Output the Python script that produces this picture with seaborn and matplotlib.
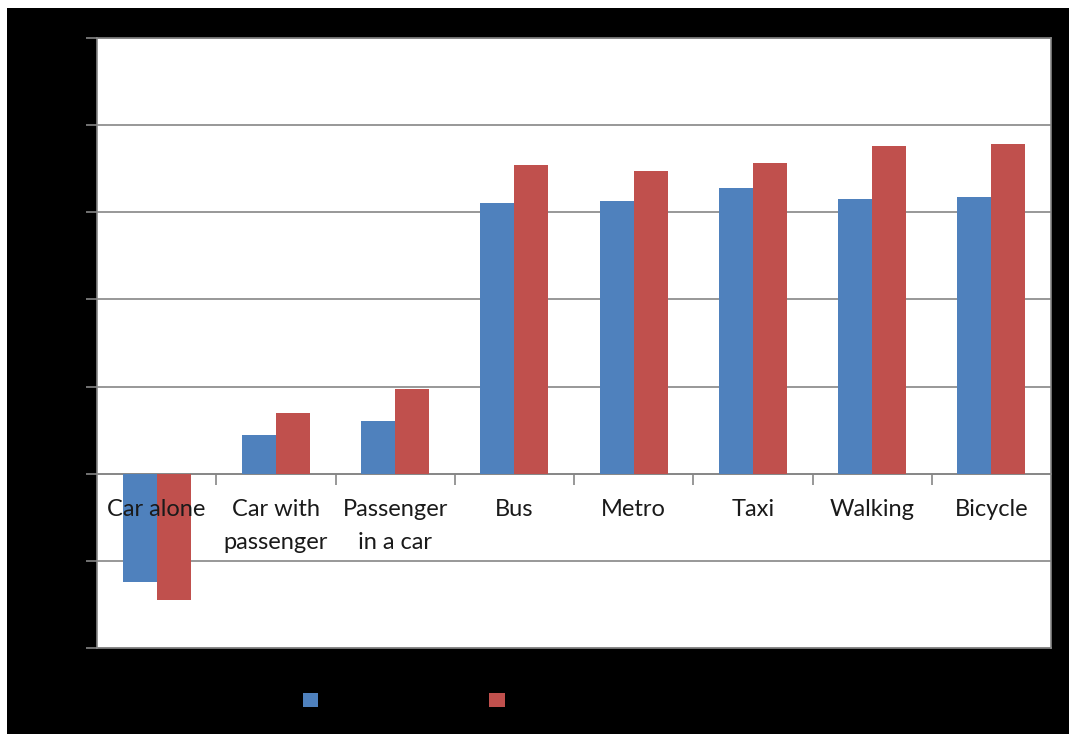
import matplotlib
matplotlib.use("Agg")
import matplotlib.pyplot as plt
from matplotlib.patches import Rectangle, Patch
import seaborn as sns
import pandas as pd

# Travel modes and the two series
categories = ["Car alone", "Car with\npassenger", "Passenger\nin a car", "Bus",
              "Metro", "Taxi", "Walking", "Bicycle"]
series_names = ["Series1", "Series2"]
series1 = [-12.45, 4.43, 6.03, 31.04, 31.35, 32.84, 31.47, 31.81]
series2 = [-14.51, 6.95, 9.70, 35.48, 34.74, 35.65, 37.57, 37.80]
y_ticks = [-20, -10, 0, 10, 20, 30, 40, 50]

colors = ["#4F81BD", "#C0504D"]
grid_grey = "#868686"

df = pd.DataFrame({
    "mode": categories * 2,
    "series": [series_names[0]] * len(categories) + [series_names[1]] * len(categories),
    "value": series1 + series2,
})

sns.set_theme(style="white")
plt.rcParams["font.family"] = ["Lato", "DejaVu Sans"]

W, H = 1069, 734
fig = plt.figure(figsize=(W / 100, H / 100), dpi=100, facecolor="white")
# black chart-area background with a thin white margin top and left
fig.patches.append(Rectangle((7 / W, 0), 1 - 7 / W, (H - 8) / H,
                             transform=fig.transFigure, facecolor="black",
                             edgecolor="none", zorder=-10))

ax = fig.add_axes([97 / W, 1 - 648 / H, (1051 - 97) / W, (648 - 38) / H])
ax.set_zorder(1)
ax.set_facecolor("white")

sns.barplot(data=df, x="mode", y="value", hue="series", palette=colors,
            width=0.57, gap=0, saturation=1, linewidth=0, ax=ax,
            legend=False, zorder=3)

ax.set_ylim(y_ticks[0], y_ticks[-1])
ax.set_xlim(-0.5, len(categories) - 0.5)
ax.set_yticks(y_ticks)
ax.set_yticklabels([str(t) for t in y_ticks], color="black", fontsize=13)
ax.tick_params(axis="y", direction="out", length=8, width=1.2, color=grid_grey, left=True)
ax.yaxis.grid(True, color=grid_grey, linewidth=1.2, zorder=0)
ax.set_axisbelow(True)
ax.set_xlabel("")
ax.set_ylabel("")
ax.set_xticks([])
for s in ax.spines.values():
    s.set_color(grid_grey)
    s.set_linewidth(1.2)

# category axis drawn along the zero line, with boundary ticks
zero_frac = (0 - y_ticks[0]) / (y_ticks[-1] - y_ticks[0])
bound_ax = ax.secondary_xaxis(zero_frac)
bound_ax.spines["bottom"].set_color(grid_grey)
bound_ax.spines["bottom"].set_linewidth(1.2)
bound_ax.set_xticks([i + 0.5 for i in range(len(categories) - 1)])
bound_ax.set_xticklabels([])
bound_ax.tick_params(axis="x", direction="out", length=8, width=1.2, color=grid_grey)

# category names sit below the zero line, drawn on top of the bars
for i, name in enumerate(categories):
    ax.annotate(name, xy=(i, 0), xycoords="data", xytext=(0, -18),
                textcoords="offset points", ha="center", va="top",
                fontsize=17, color="#1a1a1a", linespacing=1.75,
                zorder=10, annotation_clip=False)

handles = [Patch(facecolor=c, edgecolor="none") for c in colors]
fig.legend(handles, series_names, loc="center left",
           bbox_to_anchor=(289 / W, 1 - 701 / H), ncol=2, frameon=False,
           fontsize=11, handlelength=1.0, handleheight=1.0, handletextpad=0.5,
           columnspacing=7.5, labelcolor="black")

fig.savefig("out.png", dpi=100, facecolor=fig.get_facecolor())
